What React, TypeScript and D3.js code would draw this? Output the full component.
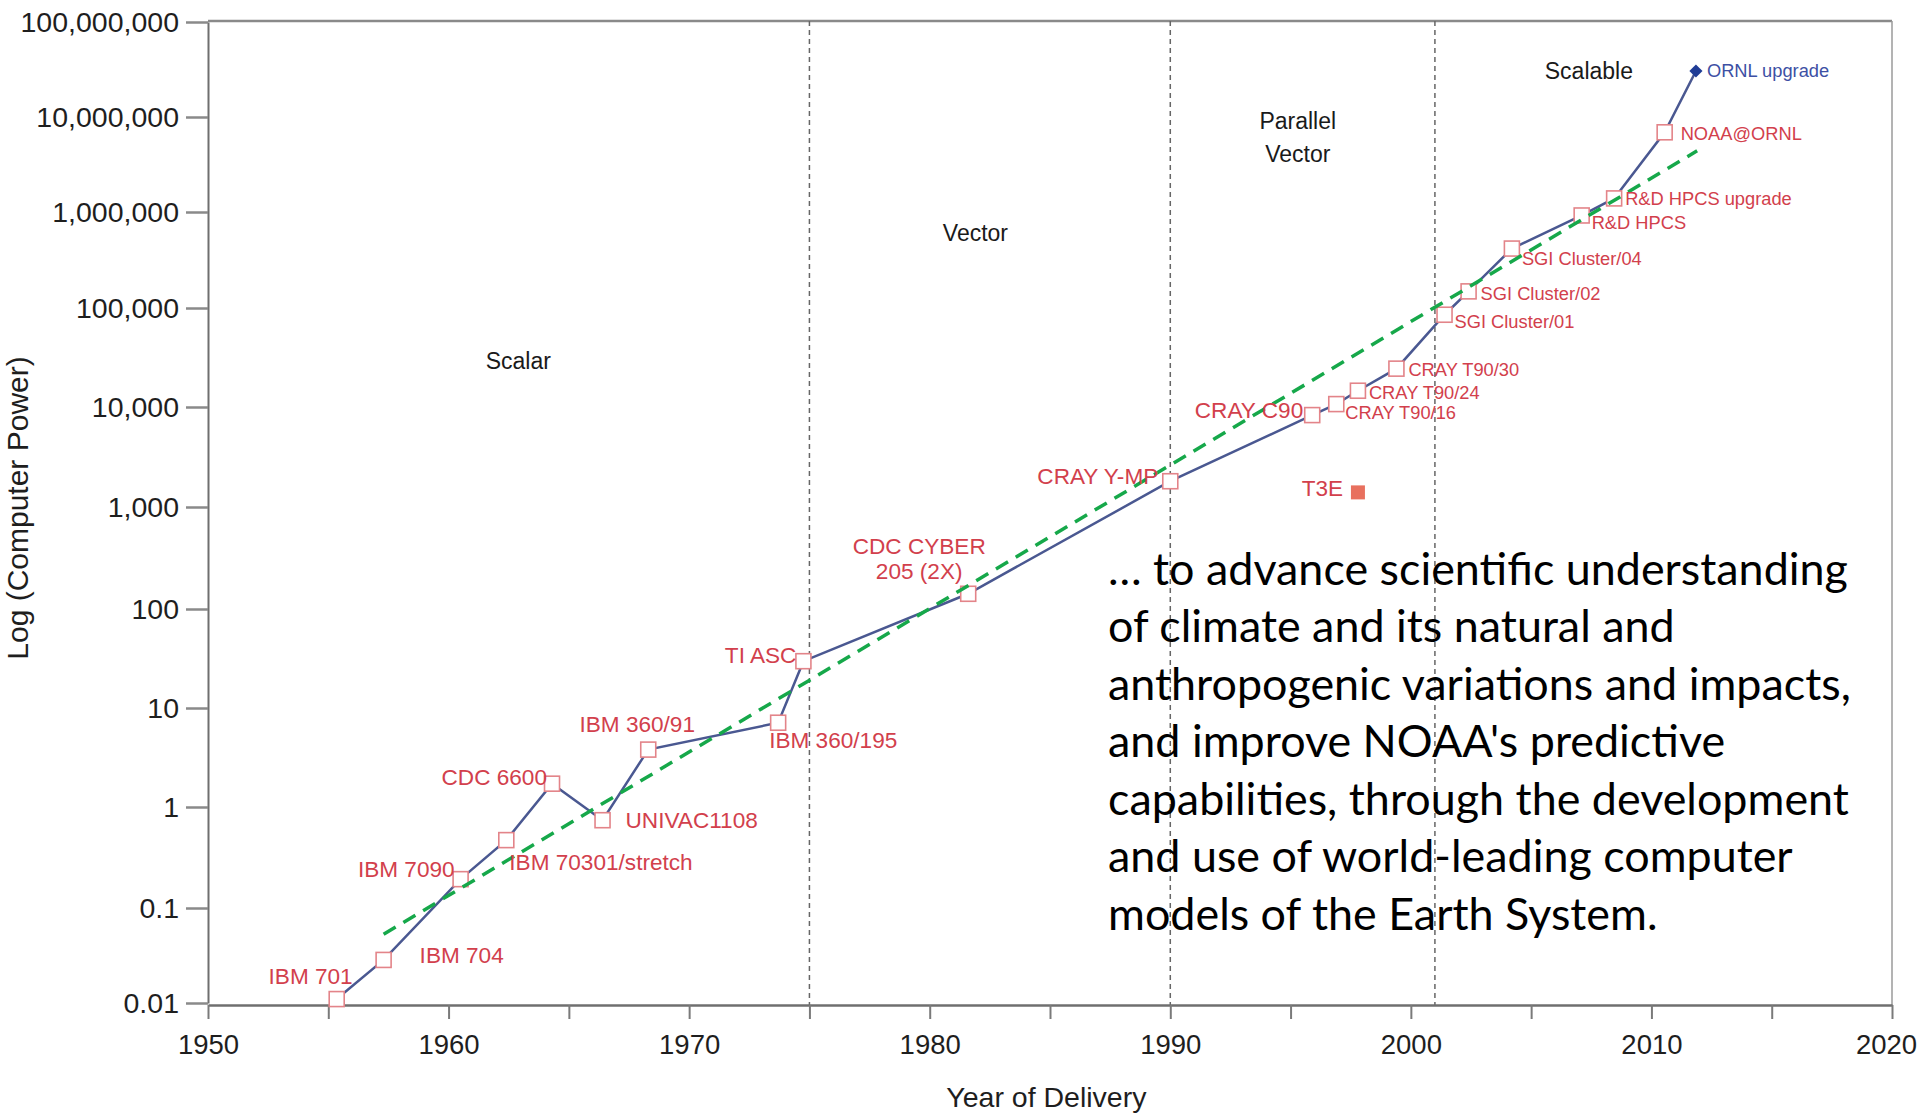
import React, { useRef, useEffect } from 'react';
import * as d3 from 'd3';

// machines on the NOAA line, in delivery order
const machineNames = [
  'IBM 701', 'IBM 704', 'IBM 7090', 'IBM 70301/stretch', 'CDC 6600', 'UNIVAC1108',
  'IBM 360/91', 'IBM 360/195', 'TI ASC', 'CDC CYBER\n205 (2X)', 'CRAY Y-MP', 'CRAY C90',
  'CRAY T90/16', 'CRAY T90/24', 'CRAY T90/30', 'SGI Cluster/01', 'SGI Cluster/02',
  'SGI Cluster/04', 'R&D HPCS', 'R&D HPCS upgrade', 'NOAA@ORNL', 'ORNL upgrade',
];
const deliveryYears = [
  1955.35, 1957.3, 1960.5, 1962.4, 1964.3, 1966.4,
  1968.3, 1973.7, 1974.75, 1981.6, 1990.0, 1995.9,
  1996.9, 1997.8, 1999.4, 2001.4, 2002.4,
  2004.2, 2007.1, 2008.45, 2010.55, 2011.85,
];
const computerPower = [
  0.011, 0.0284, 0.193, 0.47, 1.72, 0.74,
  3.8, 7.1, 29.7, 141, 1810, 8300,
  10700, 14600, 24400, 85500, 149000,
  416000, 920000, 1390000, 6900000, 30500000,
];

// the odd one out
const t3eName = 'T3E';
const t3eYear = 1997.8;
const t3ePower = 1400;

// green trend line endpoints
const trendYears = [1957.3, 2011.9];
const trendPower = [0.053, 4400000];

// eras
const eraBoundaries = [1975, 1990, 2001];
const eraNames = ['Scalar', 'Vector', 'Parallel\nVector', 'Scalable'];
const eraLabelYears = [1962.9, 1981.9, 1995.3, 2007.4];
const eraLabelPower = [29000, 610000, 6200000, 30500000];

const yTickValues = [0.01, 0.1, 1, 10, 100, 1000, 10000, 100000, 1000000, 10000000, 100000000];
// the printed axis is not evenly spaced per decade; pixel rows of each tick
const yTickRows = [1003, 908, 807, 708, 609, 507, 407, 308, 212, 117, 22];
const xTickYears = d3.range(1950, 2021, 5);

const quoteLines = [
  '\u2026 to advance scientific understanding',
  'of climate and its natural and',
  'anthropogenic variations and impacts,',
  "and improve NOAA's predictive",
  'capabilities, through the development',
  'and use of world-leading computer',
  'models of the Earth System.',
];

// label placement next to each marker (pixels)
const labelPlacement = [
  { dx: 16, dy: -23, anchor: 'end', small: false },
  { dx: 36, dy: -5, anchor: 'start', small: false },
  { dx: -6, dy: -10, anchor: 'end', small: false },
  { dx: 3, dy: 22, anchor: 'start', small: false },
  { dx: -5, dy: -7, anchor: 'end', small: false },
  { dx: 23, dy: 0, anchor: 'start', small: false },
  { dx: -11, dy: -26, anchor: 'middle', small: false },
  { dx: -9, dy: 17, anchor: 'start', small: false },
  { dx: -7, dy: -6, anchor: 'end', small: false },
  { dx: -49, dy: -48, anchor: 'middle', small: false },
  { dx: -12, dy: -5, anchor: 'end', small: false },
  { dx: -9, dy: -5, anchor: 'end', small: false },
  { dx: 9, dy: 9, anchor: 'start', small: true },
  { dx: 11, dy: 2, anchor: 'start', small: true },
  { dx: 12, dy: 1, anchor: 'start', small: true },
  { dx: 10, dy: 7, anchor: 'start', small: true },
  { dx: 12, dy: 2, anchor: 'start', small: true },
  { dx: 10, dy: 10, anchor: 'start', small: true },
  { dx: 10, dy: 7, anchor: 'start', small: true },
  { dx: 11, dy: 0, anchor: 'start', small: true },
  { dx: 16, dy: 1, anchor: 'start', small: true },
  { dx: 11, dy: 0, anchor: 'start', small: true },
];

const W = 1920;
const H = 1113;
const FONT = "'Liberation Sans', Arial, Helvetica, sans-serif";

const App = () => {
  const svgRef = useRef<SVGSVGElement | null>(null);

  useEffect(() => {
    if (!svgRef.current) return;
    const svg = d3.select(svgRef.current);
    svg.selectAll('*').remove();

    const left = 208, right = 1892, top = 21, bottom = 1005;

    const x = d3.scaleLinear().domain([1950, 2020]).range([left, right]);
    // piecewise log scale, one segment per decade
    const y = d3.scaleLog().domain(yTickValues).range(yTickRows);

    svg.append('rect').attr('width', W).attr('height', H).attr('fill', '#fff');

    // frame top and right
    svg.append('line')
      .attr('x1', left).attr('x2', right).attr('y1', top).attr('y2', top)
      .attr('stroke', '#8a8a8a').attr('stroke-width', 2.5);
    svg.append('line')
      .attr('x1', right).attr('x2', right).attr('y1', top).attr('y2', bottom)
      .attr('stroke', '#9a9a9a').attr('stroke-width', 1.5);

    // era dividers
    svg.selectAll('.era-line')
      .data(eraBoundaries)
      .enter()
      .append('line')
      .attr('class', 'era-line')
      .attr('x1', d => x(d)).attr('x2', d => x(d))
      .attr('y1', top).attr('y2', bottom)
      .attr('stroke', '#666')
      .attr('stroke-width', 1.5)
      .attr('stroke-dasharray', '5,4');

    // era names
    eraNames.forEach((name, i) => {
      const lines = name.split('\n');
      const t = svg.append('text')
        .attr('x', x(eraLabelYears[i]))
        .attr('y', y(eraLabelPower[i]) - (lines.length - 1) * 16)
        .attr('text-anchor', 'middle')
        .attr('font-family', FONT)
        .attr('font-size', 23)
        .attr('fill', '#1a1a1a');
      lines.forEach((l, j) => {
        t.append('tspan')
          .attr('x', x(eraLabelYears[i]))
          .attr('dy', j === 0 ? '0.35em' : 33)
          .text(l);
      });
    });

    // y axis
    const yAxis = svg.append('g')
      .attr('transform', `translate(${left},0)`)
      .call(
        d3.axisLeft(y)
          .tickValues(yTickValues)
          .tickFormat(d3.format(','))
          .tickSize(22)
          .tickSizeOuter(0)
          .tickPadding(7)
      );
    yAxis.select('.domain').attr('stroke', '#6f6f6f').attr('stroke-width', 2);
    yAxis.selectAll('.tick line').attr('stroke', '#8a8a8a').attr('stroke-width', 2.5);
    yAxis.selectAll('.tick text')
      .attr('font-family', FONT).attr('font-size', 28.5).attr('fill', '#1e1e1e');

    // x axis
    const xAxis = svg.append('g')
      .attr('transform', `translate(0,${bottom})`)
      .call(
        d3.axisBottom(x)
          .tickValues(xTickYears)
          .tickFormat(d => (+d % 10 === 0 ? String(d) : ''))
          .tickSize(14)
          .tickSizeOuter(0)
          .tickPadding(15)
      );
    xAxis.select('.domain').attr('stroke', '#6f6f6f').attr('stroke-width', 2.5);
    xAxis.selectAll('.tick line').attr('stroke', '#7a7a7a').attr('stroke-width', 2);
    xAxis.selectAll('.tick text')
      .attr('font-family', FONT).attr('font-size', 27.5).attr('fill', '#1e1e1e');
    // keep the last year label inside the page
    xAxis.selectAll('.tick text')
      .filter(d => +d === 2020)
      .attr('dx', -6);

    // axis titles
    svg.append('text')
      .attr('x', x(1984.85))
      .attr('y', 1107)
      .attr('text-anchor', 'middle')
      .attr('font-family', FONT)
      .attr('font-size', 28.5)
      .attr('fill', '#1e1e1e')
      .text('Year of Delivery');
    svg.append('text')
      .attr('transform', 'translate(17,508) rotate(-90)')
      .attr('dy', '0.35em')
      .attr('text-anchor', 'middle')
      .attr('font-family', FONT)
      .attr('font-size', 30)
      .attr('fill', '#1e1e1e')
      .text('Log (Computer Power)');

    // main line
    const pts = deliveryYears.map((yr, i) => [yr, computerPower[i]] as [number, number]);
    const line = d3.line<[number, number]>().x(d => x(d[0])).y(d => y(d[1]));
    svg.append('path')
      .datum(pts)
      .attr('d', line)
      .attr('fill', 'none')
      .attr('stroke', '#4a5891')
      .attr('stroke-width', 2.5);

    // square markers (all but last)
    const sq = 15;
    svg.selectAll('.sq')
      .data(pts.slice(0, -1))
      .enter()
      .append('rect')
      .attr('class', 'sq')
      .attr('x', d => x(d[0]) - sq / 2)
      .attr('y', d => y(d[1]) - sq / 2)
      .attr('width', sq)
      .attr('height', sq)
      .attr('fill', '#fff')
      .attr('stroke', '#e38489')
      .attr('stroke-width', 1.6);

    // diamond for the last point
    const last = pts[pts.length - 1];
    svg.append('path')
      .attr('d', d3.symbol().type(d3.symbolDiamond2).size(110)())
      .attr('transform', `translate(${x(last[0])},${y(last[1])})`)
      .attr('fill', '#1f3c96');

    // T3E
    svg.append('rect')
      .attr('x', x(t3eYear) - 7)
      .attr('y', y(t3ePower) - 7)
      .attr('width', 14)
      .attr('height', 14)
      .attr('fill', '#e8705e');
    svg.append('text')
      .attr('x', x(t3eYear) - 15)
      .attr('y', y(t3ePower) - 4)
      .attr('dy', '0.35em')
      .attr('text-anchor', 'end')
      .attr('font-family', FONT)
      .attr('font-size', 22.5)
      .attr('fill', '#d2404c')
      .text(t3eName);

    // trend line
    const trend = trendYears.map((yr, i) => [yr, trendPower[i]] as [number, number]);
    svg.append('path')
      .datum(trend)
      .attr('d', line)
      .attr('fill', 'none')
      .attr('stroke', '#16a84a')
      .attr('stroke-width', 3.5)
      .attr('stroke-dasharray', '14,9');

    // machine labels
    machineNames.forEach((name, i) => {
      const p = labelPlacement[i];
      const isLast = i === machineNames.length - 1;
      const cx = x(deliveryYears[i]) + p.dx;
      const lines = name.split('\n');
      const t = svg.append('text')
        .attr('x', cx)
        .attr('y', y(computerPower[i]) + p.dy)
        .attr('text-anchor', p.anchor)
        .attr('font-family', FONT)
        .attr('font-size', p.small ? 18.3 : 22.6)
        .attr('fill', isLast ? '#3d50a4' : '#d2404c');
      lines.forEach((l, j) => {
        t.append('tspan')
          .attr('x', cx)
          .attr('dy', j === 0 ? '0.35em' : 25)
          .text(l);
      });
    });

    // quote
    const q = svg.append('g');
    const qt = q.selectAll('.qline')
      .data(quoteLines)
      .enter()
      .append('text')
      .attr('class', 'qline')
      .attr('x', 0)
      .attr('y', (d, i) => 585 + i * 57.5)
      .attr('font-family', "Lato, 'Open Sans', sans-serif")
      .attr('font-weight', 400)
      .attr('font-size', 45)
      .attr('fill', '#000')
      .text(d => d);
    let maxW = 0;
    qt.each(function () {
      maxW = Math.max(maxW, (this as SVGTextElement).getComputedTextLength());
    });
    const sx = maxW > 0 ? 743 / maxW : 1;
    q.attr('transform', `translate(1108,0) scale(${sx},1)`);
  }, []);

  return (
    <div style={{ position: 'absolute', left: 0, top: 0, width: W, height: H, background: '#fff' }}>
      <svg ref={svgRef} width={W} height={H}></svg>
    </div>
  );
};

export default App;
